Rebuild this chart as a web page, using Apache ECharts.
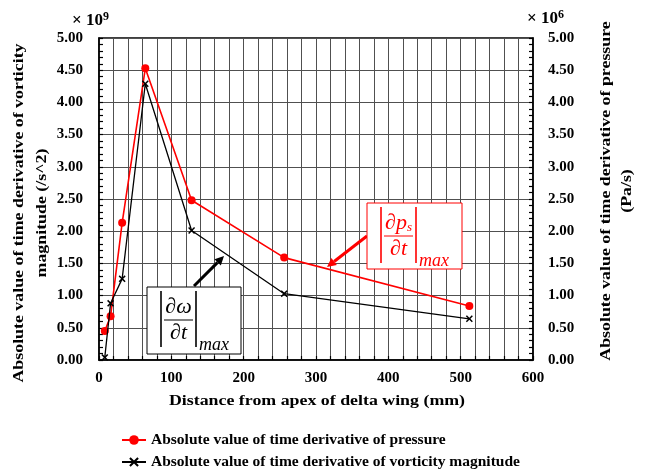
<!DOCTYPE html>
<html>
<head>
<meta charset="utf-8">
<script src="https://cdn.jsdelivr.net/npm/echarts@6/dist/echarts.min.js"></script>
<style>
  html, body { margin: 0; padding: 0; background: #fff; }
  #main { width: 649px; height: 469px; }
</style>
</head>
<body>
<div id="main"></div>
<script>
// distances along the wing (mm)
const distance = [8, 16, 32, 64, 128, 256, 512]
// |dp/dt| max, x10^6 Pa/s (right axis)
const pressureRate = [0.45, 0.68, 2.13, 4.53, 2.48, 1.59, 0.84]
// |dw/dt| max, x10^9 1/s^2 (left axis)
const vorticityRate = [0.04, 0.88, 1.26, 4.29, 2.01, 1.03, 0.64]

const pressureName = 'Absolute value of time derivative of pressure'
const vorticityName = 'Absolute value of time derivative of vorticity magnitude'

const serif = '"Liberation Serif", "Times New Roman", serif'
const mathFont = '"Liberation Serif", "DejaVu Serif", serif'
const gridColor = '#505050'
const stretch = 1.19

function pairs (xs, ys) {
  return xs.map(function (x, i) { return [x, ys[i]] })
}

// arrow made of a thick line plus a triangle head
function arrow (x1, y1, x2, y2, color) {
  let dx = x2 - x1
  let dy = y2 - y1
  let len = Math.sqrt(dx * dx + dy * dy)
  let ux = dx / len
  let uy = dy / len
  let head = 9
  let half = 4.5
  let bx = x2 - ux * head
  let by = y2 - uy * head
  return [
    {
      type: 'line',
      shape: { x1: x1, y1: y1, x2: bx, y2: by },
      style: { stroke: color, lineWidth: 3 },
      z: 100
    },
    {
      type: 'polygon',
      shape: { points: [[x2, y2], [bx - uy * half, by + ux * half], [bx + uy * half, by - ux * half]] },
      style: { fill: color },
      z: 100
    }
  ]
}

// boxed |d?/dt|_max formula
function formulaBox (x, y, w, h, color, numer) {
  let c = function (el) { el.z = 101; return el }
  return {
    type: 'group',
    x: x,
    y: y,
    z: 101,
    children: [
      c({ type: 'rect', shape: { x: 0, y: 0, width: w, height: h }, style: { fill: '#fff', stroke: color, lineWidth: 1 } }),
      c({ type: 'line', shape: { x1: 14, y1: 4, x2: 14, y2: 60 }, style: { stroke: color, lineWidth: 1.6 } }),
      c({ type: 'line', shape: { x1: 49, y1: 4, x2: 49, y2: 60 }, style: { stroke: color, lineWidth: 1.6 } }),
      c({ type: 'line', shape: { x1: 17, y1: 33, x2: 46, y2: 33 }, style: { stroke: color, lineWidth: 1 } }),
      c({
        type: 'text',
        x: 31.5,
        y: 20,
        style: {
          text: numer,
          rich: { b: { fontSize: 13, fontStyle: 'italic', fontFamily: mathFont, fill: color, padding: [10, 0, 0, 0] } },
          font: 'italic 22px ' + mathFont,
          fill: color,
          align: 'center',
          verticalAlign: 'middle'
        }
      }),
      c({
        type: 'text',
        x: 31.5,
        y: 46,
        style: { text: '∂t', font: 'italic 22px ' + mathFont, fill: color, align: 'center', verticalAlign: 'middle' }
      }),
      c({
        type: 'text',
        x: 52,
        y: 58,
        style: { text: 'max', font: 'italic 18px ' + mathFont, fill: color, align: 'left', verticalAlign: 'middle' }
      })
    ]
  }
}

// bold serif title, stretched along its baseline like the original
function titleText (x, y, rotation, text, lineHeight) {
  return {
    type: 'text',
    x: x,
    y: y,
    rotation: rotation,
    scaleX: stretch,
    style: {
      text: text,
      font: 'bold 15px ' + serif,
      lineHeight: lineHeight,
      fill: '#000',
      align: 'center',
      verticalAlign: 'middle'
    }
  }
}

function legendAt (top, name) {
  return {
    orient: 'horizontal',
    left: 116,
    top: top,
    itemWidth: 24,
    itemHeight: 12,
    textStyle: { fontFamily: serif, fontWeight: 'bold', fontSize: 15.5, color: '#000' },
    data: [name]
  }
}

const tickLabel = {
  fontFamily: serif,
  fontWeight: 'bold',
  fontSize: 15,
  color: '#000'
}

function valueAxis (position, margin, showSplit) {
  return {
    type: 'value',
    position: position,
    min: 0,
    max: 5,
    interval: 0.5,
    axisLine: { show: true, onZero: false, lineStyle: { color: '#000', width: 1.5 } },
    axisTick: { show: true, inside: true, length: 4, lineStyle: { color: '#000', width: 1.2 } },
    minorTick: { show: true, splitNumber: 5, length: 4, lineStyle: { color: '#000', width: 1.2 } },
    axisLabel: Object.assign({ margin: margin, formatter: function (v) { return v.toFixed(2) } }, tickLabel),
    splitLine: { show: showSplit, lineStyle: { color: gridColor, width: 1 } }
  }
}

const chart = echarts.init(document.getElementById('main'))

const option = {
  animation: false,
  backgroundColor: '#fff',
  grid: {
    left: 99,
    right: 116,
    top: 38,
    bottom: 109,
    show: true,
    borderColor: '#000',
    borderWidth: 1.5
  },
  legend: [legendAt(427, pressureName), legendAt(449, vorticityName)],
  xAxis: {
    type: 'value',
    min: 0,
    max: 600,
    interval: 100,
    axisLine: { show: true, onZero: false, lineStyle: { color: '#000', width: 1.5 } },
    axisTick: { show: true, inside: true, length: 4, lineStyle: { color: '#000', width: 1.2 } },
    minorTick: { show: true, splitNumber: 5, length: 4, lineStyle: { color: '#000', width: 1.2 } },
    axisLabel: Object.assign({ margin: 11 }, tickLabel),
    splitLine: { show: true, lineStyle: { color: gridColor, width: 1 } },
    minorSplitLine: { show: true, lineStyle: { color: gridColor, width: 1 } }
  },
  yAxis: [valueAxis('left', 16, true), valueAxis('right', 15, false)],
  series: [
    {
      name: pressureName,
      type: 'line',
      yAxisIndex: 1,
      data: pairs(distance, pressureRate),
      symbol: 'circle',
      symbolSize: 8,
      color: '#ff0000',
      lineStyle: { color: '#ff0000', width: 1.6 },
      itemStyle: { color: '#ff0000' },
      z: 3
    },
    {
      name: vorticityName,
      type: 'line',
      yAxisIndex: 0,
      data: pairs(distance, vorticityRate),
      symbol: 'path://M0,1.5L1.5,0L5,3.5L8.5,0L10,1.5L6.5,5L10,8.5L8.5,10L5,6.5L1.5,10L0,8.5L3.5,5Z',
      symbolSize: 7,
      color: '#000',
      lineStyle: { color: '#000', width: 1.3 },
      itemStyle: { color: '#000' },
      z: 4
    }
  ],
  graphic: [
    {
      type: 'text',
      left: 72,
      top: 11,
      style: {
        text: '× 10{s|9}',
        font: 'bold 17px ' + serif,
        fill: '#000',
        rich: { s: { fontSize: 12, fontWeight: 'bold', fontFamily: serif, padding: [0, 0, 8, 0] } }
      }
    },
    {
      type: 'text',
      left: 527,
      top: 9,
      style: {
        text: '× 10{s|6}',
        font: 'bold 17px ' + serif,
        fill: '#000',
        rich: { s: { fontSize: 12, fontWeight: 'bold', fontFamily: serif, padding: [0, 0, 8, 0] } }
      }
    },
    titleText(317, 401, 0, 'Distance from apex of delta wing (mm)', 20),
    titleText(31, 213, Math.PI / 2, 'Absolute value of time derivative of vorticity\nmagnitude (/s^2)', 23),
    titleText(617, 191, Math.PI / 2, 'Absolute value of time derivative of pressure\n(Pa/s)', 21)
  ]
    .concat(arrow(194, 286, 224, 256, '#000'))
    .concat(arrow(367, 236, 327, 267, '#ff0000'))
    .concat([
      formulaBox(147, 287, 94, 67, '#000', '∂ω'),
      formulaBox(367, 203, 95, 66, '#ff0000', '∂p{b|s}')
    ])
}

chart.setOption(option)
window.onresize = function () {
  chart.resize()
}
</script>
</body>
</html>
